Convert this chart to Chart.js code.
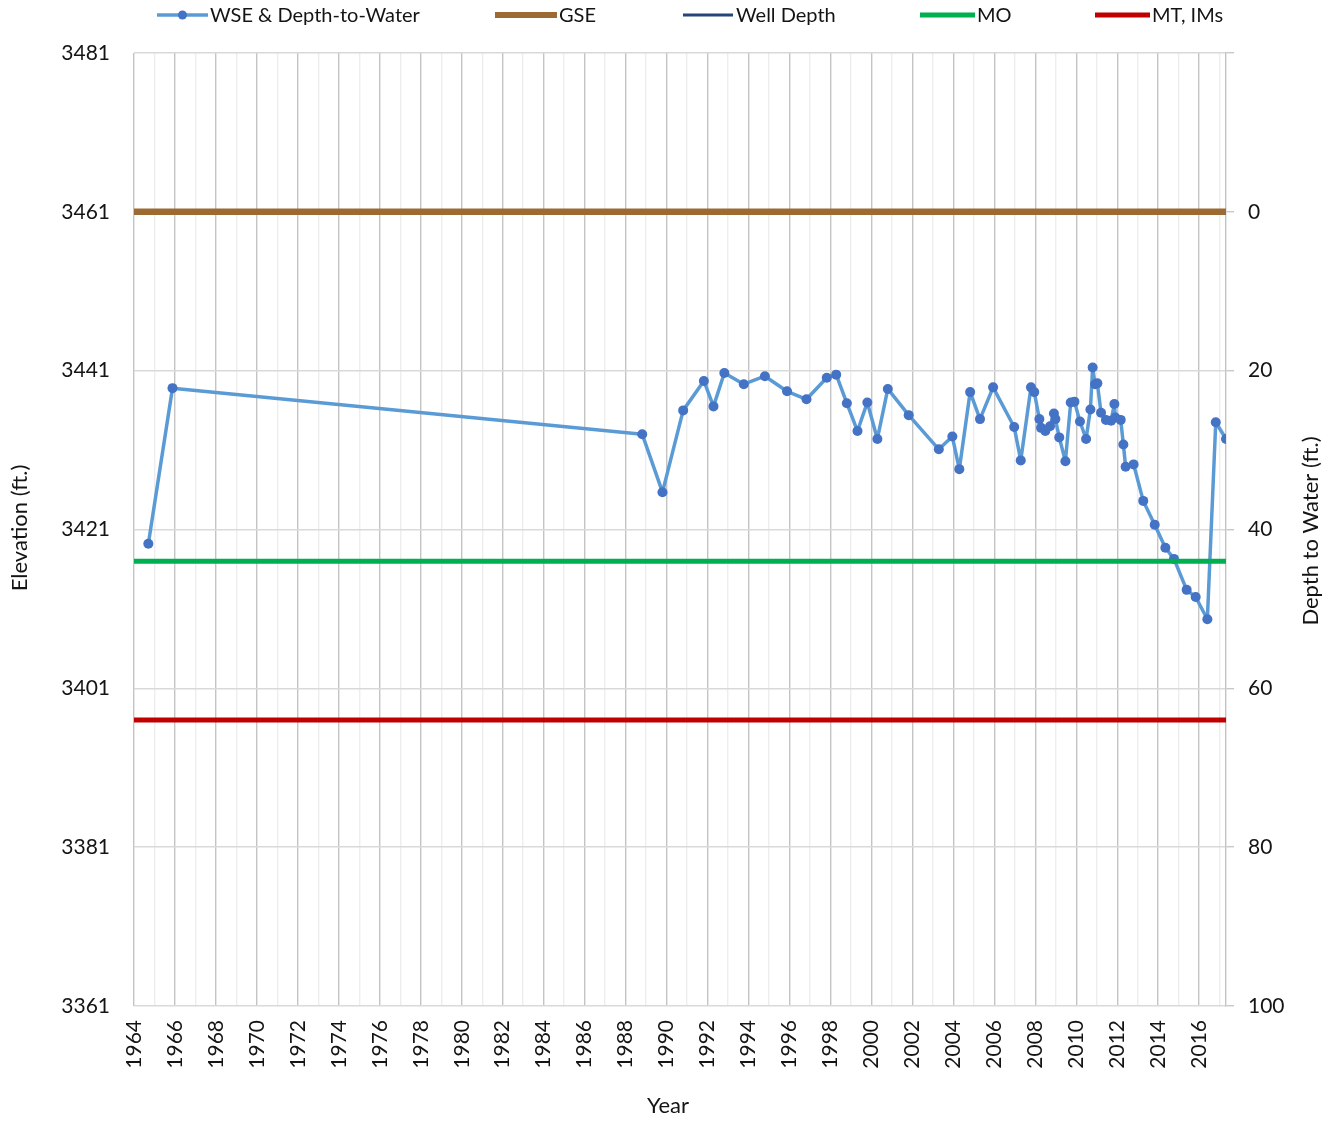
<!DOCTYPE html>
<html>
<head>
<meta charset="utf-8">
<script src="https://cdn.jsdelivr.net/npm/chart.js@4.4.1/dist/chart.umd.min.js"></script>
<style>
  html, body { margin: 0; padding: 0; background: #fff; }
</style>
</head>
<body>
<canvas id="chart" width="1334" height="1122"></canvas>
<script>
// water surface elevation readings (decimal year, ft)
const wseYears = [1964.70, 1965.88, 1988.81, 1989.80, 1990.81, 1991.82, 1992.29, 1992.82, 1993.77, 1994.80,
  1995.88, 1996.83, 1997.82, 1998.28, 1998.80, 1999.32, 1999.80, 2000.29, 2000.80, 2001.82,
  2003.29, 2003.95, 2004.29, 2004.82, 2005.30, 2005.94, 2006.97, 2007.29, 2007.79, 2007.95,
  2008.20, 2008.28, 2008.49, 2008.72, 2008.91, 2008.98, 2009.17, 2009.47, 2009.73, 2009.91,
  2010.18, 2010.48, 2010.69, 2010.80, 2010.92, 2011.03, 2011.21, 2011.45, 2011.70, 2011.86,
  2011.91, 2012.17, 2012.30, 2012.41, 2012.80, 2013.27, 2013.83, 2014.35, 2014.77, 2015.39,
  2015.83, 2016.40, 2016.81, 2017.31];
const wseElev = [3419.2, 3438.8, 3433.0, 3425.7, 3436.0, 3439.7, 3436.5, 3440.7, 3439.3, 3440.3,
  3438.4, 3437.4, 3440.1, 3440.5, 3436.9, 3433.4, 3437.0, 3432.4, 3438.7, 3435.4,
  3431.1, 3432.7, 3428.6, 3438.3, 3434.9, 3438.9, 3433.9, 3429.7, 3438.9, 3438.3,
  3434.9, 3433.8, 3433.4, 3434.0, 3435.6, 3434.9, 3432.6, 3429.6, 3437.0, 3437.1,
  3434.6, 3432.4, 3436.1, 3441.4, 3439.3, 3439.4, 3435.7, 3434.8, 3434.7, 3436.8,
  3435.1, 3434.8, 3431.7, 3428.9, 3429.2, 3424.6, 3421.6, 3418.7, 3417.3, 3413.4,
  3412.5, 3409.7, 3434.5, 3432.4];

// horizontal reference lines
const refYears = [1964, 2017.31];
const gseElev = 3461;
const moElev = 3417;
const mtElev = 3397;

// axes
const xMin = 1964, xMax = 2017.31;
const elevTicks = [3361, 3381, 3401, 3421, 3441, 3461, 3481];
const depthTicks = [-20, 0, 20, 40, 60, 80, 100];
const yearTicks = [];
for (let y = 1964; y <= 2017; y++) yearTicks.push(y);

const labels = ['WSE & Depth-to-Water', 'GSE', 'Well Depth', 'MO', 'MT, IMs'];

const FONT = 'Lato, "Open Sans", sans-serif';
const TXT = '#141414';

function flat(v) {
  return refYears.map(x => ({ x: x, y: v }));
}

// legend drawn by hand so items sit where the original puts them
const legendPlugin = {
  id: 'topLegend',
  afterDraw(chart) {
    const ctx = chart.ctx;
    const slots = [[157, 208, 210], [495, 557, 559], [683, 733, 736], [920, 975, 977], [1095, 1150, 1152]];
    const widths = [3.5, 6, 3, 5, 5];
    const yc = 15;
    ctx.save();
    chart.data.datasets.forEach((ds, i) => {
      const s = slots[i];
      ctx.strokeStyle = ds.borderColor;
      ctx.lineWidth = widths[i];
      ctx.beginPath();
      ctx.moveTo(s[0], yc);
      ctx.lineTo(s[1], yc);
      ctx.stroke();
      if (i === 0) {
        ctx.fillStyle = ds.pointBackgroundColor;
        ctx.beginPath();
        ctx.arc((s[0] + s[1]) / 2, yc, 4.5, 0, Math.PI * 2);
        ctx.fill();
      }
      ctx.fillStyle = TXT;
      ctx.font = '20px ' + FONT;
      ctx.textBaseline = 'middle';
      ctx.textAlign = 'left';
      ctx.fillText(ds.label, s[2], yc + 1);
    });
    ctx.restore();
  }
};

function rotText(ctx, txt, x, y) {
  ctx.save();
  ctx.fillStyle = TXT;
  ctx.font = '22px ' + FONT;
  ctx.textAlign = 'center';
  ctx.textBaseline = 'middle';
  ctx.translate(x, y);
  ctx.rotate(-Math.PI / 2);
  ctx.fillText(txt, 0, 0);
  ctx.restore();
}

const titlePlugin = {
  id: 'axisTitles',
  afterDraw(chart) {
    const ctx = chart.ctx;
    ctx.save();
    ctx.fillStyle = TXT;
    ctx.font = '22px ' + FONT;
    ctx.textAlign = 'center';
    ctx.textBaseline = 'middle';
    ctx.fillText('Year', 668, 1106);
    ctx.restore();
    rotText(ctx, 'Elevation (ft.)', 20, 528);
    rotText(ctx, 'Depth to Water (ft.)', 1311, 531);
  }
};

new Chart(document.getElementById('chart'), {
  type: 'line',
  data: {
    datasets: [
      {
        label: labels[0],
        data: wseYears.map((x, i) => ({ x: x, y: wseElev[i] })),
        borderColor: '#5B9BD5',
        borderWidth: 3.5,
        borderJoinStyle: 'round',
        borderCapStyle: 'round',
        pointBackgroundColor: '#4472C4',
        pointBorderColor: '#4472C4',
        pointRadius: 5,
        pointBorderWidth: 0,
        tension: 0,
        order: 10
      },
      {
        label: labels[1],
        data: flat(gseElev),
        borderColor: '#9E6A33',
        borderWidth: 6.5,
        pointRadius: 0,
        order: 1
      },
      {
        label: labels[2],
        data: [],
        borderColor: '#264478',
        borderWidth: 3,
        pointRadius: 0,
        order: 1
      },
      {
        label: labels[3],
        data: flat(moElev),
        borderColor: '#00B050',
        borderWidth: 5,
        pointRadius: 0,
        order: 1
      },
      {
        label: labels[4],
        data: flat(mtElev),
        borderColor: '#C00000',
        borderWidth: 5,
        pointRadius: 0,
        order: 1
      }
    ]
  },
  options: {
    responsive: false,
    animation: false,
    layout: { padding: { top: 53, left: 0, right: 0, bottom: 0 } },
    plugins: {
      legend: { display: false },
      tooltip: { enabled: false }
    },
    scales: {
      x: {
        type: 'linear',
        min: xMin,
        max: xMax,
        afterBuildTicks: s => { s.ticks = yearTicks.map(v => ({ value: v })); },
        afterFit: s => { s.height = 116; },
        grid: {
          color: c => (c.tick && c.tick.value % 2 === 0) ? '#C4C4C4' : '#EDEDED',
          lineWidth: 1.4,
          drawTicks: false
        },
        border: { display: false },
        ticks: {
          autoSkip: false,
          minRotation: 90,
          maxRotation: 90,
          padding: 14,
          color: TXT,
          font: { family: FONT, size: 21 },
          callback: v => (v % 2 === 0 ? String(v) : '')
        }
      },
      y: {
        position: 'left',
        min: 3361,
        max: 3481,
        afterBuildTicks: s => { s.ticks = elevTicks.map(v => ({ value: v })); },
        afterFit: s => { s.width = 134; },
        grid: { color: '#D9D9D9', lineWidth: 1.4, drawTicks: false },
        border: { display: false },
        ticks: {
          padding: 24,
          color: TXT,
          font: { family: FONT, size: 21 },
          callback: v => String(v)
        }
      },
      y2: {
        position: 'right',
        min: -20,
        max: 100,
        reverse: true,
        afterBuildTicks: s => { s.ticks = depthTicks.map(v => ({ value: v })); },
        afterFit: s => { s.width = 108; },
        grid: { drawOnChartArea: false, drawTicks: true, tickLength: 8, color: '#C8C8C8', lineWidth: 1.4 },
        border: { display: true, color: '#C4C4C4', width: 1.4 },
        ticks: {
          padding: 14,
          color: TXT,
          font: { family: FONT, size: 21 },
          callback: v => (v < 0 ? '' : String(v))
        }
      }
    }
  },
  plugins: [legendPlugin, titlePlugin]
});
</script>
</body>
</html>
